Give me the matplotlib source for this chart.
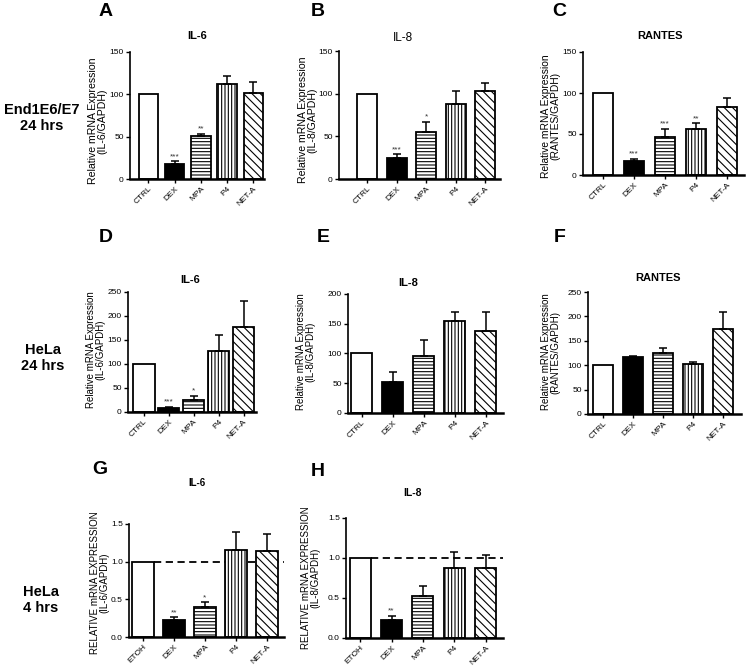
import matplotlib
matplotlib.use("Agg")
import matplotlib.pyplot as plt

plt.rcParams['font.family'] = ['Liberation Sans', 'DejaVu Sans']
plt.rcParams['hatch.linewidth'] = 0.8

FIG_W, FIG_H = 749, 671

# ---- data ----
groups_24h = ['CTRL', 'DEX', 'MPA', 'P4', 'NET-A']
groups_4h = ['ETOH', 'DEX', 'MPA', 'P4', 'NET-A']

a_mean = [100, 18, 51, 112, 101]
a_err = [0, 3, 2, 10, 14]
a_sig = ['', '***', '**', '', '']

b_mean = [100, 25, 55, 88, 103]
b_err = [0, 4, 12, 15, 9]
b_sig = ['', '***', '*', '', '']

c_mean = [100, 17, 46, 56, 83]
c_err = [0, 3, 10, 7, 11]
c_sig = ['', '***', '***', '**', '']

d_mean = [100, 8, 26, 128, 177]
d_err = [0, 3, 8, 32, 54]
d_sig = ['', '***', '*', '', '']

e_mean = [100, 52, 95, 155, 138]
e_err = [0, 17, 27, 15, 32]
e_sig = ['', '', '', '', '']

f_mean = [100, 116, 126, 102, 175]
f_err = [0, 3, 9, 5, 34]
f_sig = ['', '', '', '', '']

g_mean = [1.0, 0.23, 0.40, 1.16, 1.14]
g_err = [0, 0.03, 0.06, 0.24, 0.23]
g_sig = ['', '**', '*', '', '']

h_mean = [1.0, 0.22, 0.53, 0.87, 0.87]
h_err = [0, 0.06, 0.12, 0.20, 0.17]
h_sig = ['', '**', '', '', '']

faces = ['white', 'black', 'white', 'white', 'white']
hatches = [None, None, '-----', '|||||', '\\\\\\\\']

fig = plt.figure(figsize=(FIG_W / 100, FIG_H / 100), dpi=100)


def fx(px):
    return px / FIG_W


def fy(py):
    return 1 - py / FIG_H


def panel(rect, xlim, bar_w, labels, mean, err, sig, yticks, title, title_xy,
          title_bold, title_size, letter, letter_xy, ylabel, ylabel_xy,
          ylabel_size, dashed=False):
    left, top, right, bottom = rect
    ax = fig.add_axes([fx(left), fy(bottom), (right - left) / FIG_W, (bottom - top) / FIG_H])
    x = list(range(len(labels)))
    ax.bar(x, mean, width=bar_w, color=faces, edgecolor='black', linewidth=1.3, zorder=2)
    for b, h in zip(ax.patches, hatches):
        if h:
            b.set_hatch(h)
    xs = [i for i in x if err[i] > 0]
    ax.errorbar(xs, [mean[i] for i in xs], yerr=[[0] * len(xs), [err[i] for i in xs]],
                fmt='none', ecolor='black', elinewidth=1.1, capsize=3, capthick=1.1,
                zorder=3)
    ymax = yticks[-1]
    for i in x:
        if sig[i]:
            ax.text(i, mean[i] + err[i] + ymax * 0.01, sig[i], ha='center', va='bottom',
                    fontsize=6, color='#333333')
    if dashed:
        ax.hlines(1.0, bar_w / 2, xlim[1], colors='black', linestyles=(0, (4, 2.5)),
                  linewidth=1.3, zorder=1)
    ax.set_xlim(*xlim)
    ax.set_ylim(0, ymax)
    ax.set_yticks(yticks)
    ax.set_yticklabels([('%g' % t) if ymax > 10 else ('%.1f' % t) for t in yticks])
    ax.set_xticks(x)
    ax.set_xticklabels(labels, rotation=45, ha='right', rotation_mode='anchor')
    for s in ['top', 'right']:
        ax.spines[s].set_visible(False)
    ax.spines['left'].set_linewidth(1.2)
    ax.spines['bottom'].set_linewidth(1.8)
    ax.tick_params(direction='out', length=3, width=1, labelsize=6, pad=1.5)
    ax.patch.set_alpha(0)

    fig.text(fx(title_xy[0]), fy(title_xy[1]), title, ha='center', va='center',
             fontsize=title_size, fontweight='bold' if title_bold else 'normal')
    fig.text(fx(letter_xy[0]), fy(letter_xy[1]), letter, ha='center', va='center',
             fontsize=14, fontweight='bold')
    fig.text(fx(ylabel_xy[0]), fy(ylabel_xy[1]), ylabel, ha='center', va='center',
             rotation=90, fontsize=ylabel_size, multialignment='center', linespacing=0.95)
    return ax


rel = 'Relative mRNA Expression\n(%s)'
rel_caps = 'RELATIVE mRNA EXPRESSION\n(%s)'

panel((130, 52, 264, 179), (-0.7, 4.4), 0.74, groups_24h, a_mean, a_err, a_sig,
      [0, 50, 100, 150], 'IL-6', (197, 36), True, 8, 'A', (106, 12),
      rel % 'IL-6/GAPDH', (98, 121), 7.6)
panel((339, 51, 500, 179), (-0.95, 4.5), 0.68, groups_24h, b_mean, b_err, b_sig,
      [0, 50, 100, 150], 'IL-8', (403, 38), False, 8.5, 'B', (318, 11),
      rel % 'IL-8/GAPDH', (308, 120), 7.6)
panel((583, 52, 744, 175), (-0.65, 4.55), 0.65, groups_24h, c_mean, c_err, c_sig,
      [0, 50, 100, 150], 'RANTES', (660, 36), True, 8, 'C', (559, 12),
      rel % 'RANTES/GAPDH', (551, 116), 7.4)

panel((128, 292, 256, 412), (-0.64, 4.5), 0.85, groups_24h, d_mean, d_err, d_sig,
      [0, 50, 100, 150, 200, 250], 'IL-6', (190, 280), True, 8, 'D', (106, 237),
      rel % 'IL-6/GAPDH', (96, 350), 7)
panel((348, 294, 503, 413), (-0.45, 4.55), 0.68, groups_24h, e_mean, e_err, e_sig,
      [0, 50, 100, 150, 200], 'IL-8', (408, 283), True, 8, 'E', (323, 237),
      rel % 'IL-8/GAPDH', (306, 352), 7)
panel((588, 292, 741, 414), (-0.5, 4.6), 0.67, groups_24h, f_mean, f_err, f_sig,
      [0, 50, 100, 150, 200, 250], 'RANTES', (658, 278), True, 8, 'F', (560, 237),
      rel % 'RANTES/GAPDH', (551, 352), 7)

panel((129, 524, 284, 637), (-0.45, 4.55), 0.72, groups_4h, g_mean, g_err, g_sig,
      [0.0, 0.5, 1.0, 1.5], 'IL-6', (197, 483), True, 7, 'G', (100, 470),
      rel_caps % 'IL-6/GAPDH', (100, 583), 7, dashed=True)
panel((346, 518, 503, 638), (-0.45, 4.55), 0.67, groups_4h, h_mean, h_err, h_sig,
      [0.0, 0.5, 1.0, 1.5], 'IL-8', (412, 493), True, 7.5, 'H', (318, 472),
      rel_caps % 'IL-8/GAPDH', (311, 578), 7, dashed=True)

# row labels
fig.text(fx(42), fy(118), 'End1E6/E7\n24 hrs', ha='center', va='center',
         fontsize=10.5, fontweight='bold', linespacing=1.15)
fig.text(fx(43), fy(358), 'HeLa\n24 hrs', ha='center', va='center',
         fontsize=10.5, fontweight='bold', linespacing=1.15)
fig.text(fx(41), fy(600), 'HeLa\n4 hrs', ha='center', va='center',
         fontsize=10.5, fontweight='bold', linespacing=1.15)

fig.savefig('out.png', dpi=100, facecolor='white')
